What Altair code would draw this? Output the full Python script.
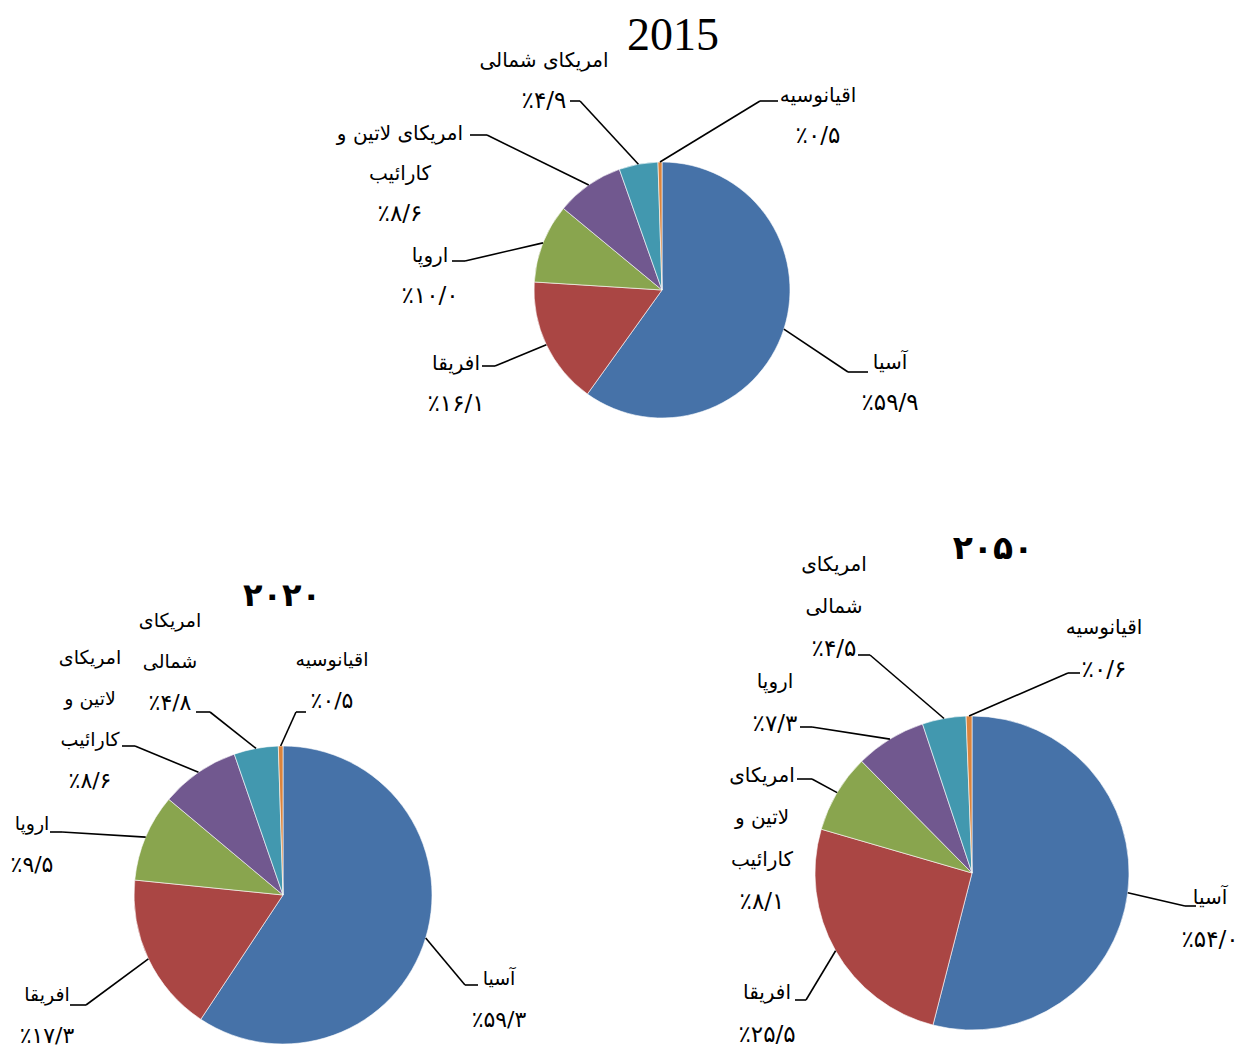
import math
import altair as alt
import pandas as pd

# ---------------- data ----------------
years = ["2015", "2020", "2050"]
regions_2015 = ["آسیا", "افریقا", "اروپا", "امریکای لاتین و کارائیب", "امریکای شمالی", "اقیانوسیه"]
values_2015 = [59.9, 16.1, 10.0, 8.6, 4.9, 0.5]
regions_2020 = ["آسیا", "افریقا", "اروپا", "امریکای لاتین و کارائیب", "امریکای شمالی", "اقیانوسیه"]
values_2020 = [59.3, 17.3, 9.5, 8.6, 4.8, 0.5]
regions_2050 = ["آسیا", "افریقا", "امریکای لاتین و کارائیب", "اروپا", "امریکای شمالی", "اقیانوسیه"]
values_2050 = [54.0, 25.5, 8.1, 7.3, 4.5, 0.6]
titles = {"2015": "2015", "2020": "۲۰۲۰", "2050": "۲۰۵۰"}

# ---------------- styles / layout ----------------
colors = ["#4672A8", "#AA4644", "#89A54E", "#71588F", "#4298AF", "#DB843D"]
OFF = 8  # page margin
W, H = 1230, 1040

layout = {
    "2015": dict(cx=662, cy=290, r=128, lh=40, fs=20, pfs=23,
                 title=dict(x=673, y=50, font="Liberation Serif", size=46, weight="normal",
                            baseline="alphabetic"),
                 wrap={"امریکای لاتین و کارائیب": ["امریکای لاتین و", "کارائیب"]},
                 labels=[(890, 363, 848, 372, 868), (456, 364, 495, 366, 482),
                         (430, 256, 465, 261, 452), (400, 134, 487, 135, 470),
                         (544, 61, 580, 101, 570), (818, 96, 760, 101, 778)]),
    "2020": dict(cx=283, cy=895, r=149, lh=41, fs=19, pfs=22,
                 title=dict(x=282, y=596, font="DejaVu Sans", size=32, weight="bold",
                            baseline="middle"),
                 wrap={"امریکای لاتین و کارائیب": ["امریکای", "لاتین و", "کارائیب"],
                       "امریکای شمالی": ["امریکای", "شمالی"]},
                 labels=[(499, 979, 465, 985, 478), (47, 995, 86, 1005, 70),
                         (32, 824, 62, 832, 50), (90, 658, 135, 746, 122),
                         (170, 621, 210, 712, 196), (332, 660, 296, 712, 306)]),
    "2050": dict(cx=972, cy=873, r=157, lh=42, fs=20, pfs=23,
                 title=dict(x=993, y=549, font="DejaVu Sans", size=33, weight="bold",
                            baseline="middle"),
                 wrap={"امریکای لاتین و کارائیب": ["امریکای", "لاتین و", "کارائیب"],
                       "امریکای شمالی": ["امریکای", "شمالی"]},
                 labels=[(1210, 898, 1185, 906, 1196), (767, 993, 806, 1000, 795),
                         (762, 776, 812, 779, 797), (775, 682, 812, 727, 800),
                         (834, 565, 870, 655, 858), (1104, 628, 1068, 673, 1080)]),
}

FA_DIGITS = str.maketrans("0123456789.", "۰۱۲۳۴۵۶۷۸۹/")


def fa_pct(v):
    return "٪" + f"{v:.1f}".translate(FA_DIGITS)


series = {"2015": (regions_2015, values_2015),
          "2020": (regions_2020, values_2020),
          "2050": (regions_2050, values_2050)}

slice_rows, seg_rows, text_rows, title_rows = [], [], [], []
for yr in years:
    regs, vals = series[yr]
    L = layout[yr]
    total = sum(vals)
    cum = 0.0
    for i, (reg, v) in enumerate(zip(regs, vals)):
        slice_rows.append(dict(year=yr, idx=i, region=reg, value=v))
        mid = (cum + v / 2) / total * 2 * math.pi
        cum += v
        sx = L["cx"] + L["r"] * math.sin(mid) - OFF
        sy = L["cy"] - L["r"] * math.cos(mid) - OFF
        tx, ty, ex, ey, hx = L["labels"][i]
        seg_rows.append(dict(x=sx, y=sy, x2=ex - OFF, y2=ey - OFF))
        seg_rows.append(dict(x=ex - OFF, y=ey - OFF, x2=hx - OFF, y2=ey - OFF))
        names = L["wrap"].get(reg, [reg])
        for k, line in enumerate(names):
            text_rows.append(dict(x=tx - OFF, y=ty - OFF + k * L["lh"], text=line, fs=L["fs"]))
        text_rows.append(dict(x=tx - OFF, y=ty - OFF + len(names) * L["lh"],
                              text=fa_pct(v), fs=L["pfs"]))
    t = L["title"]
    title_rows.append(dict(x=t["x"] - OFF, y=t["y"] - OFF, text=titles[yr], font=t["font"],
                           size=t["size"], weight=t["weight"], baseline=t["baseline"]))

slices = pd.DataFrame(slice_rows)
segs = pd.DataFrame(seg_rows)
texts = pd.DataFrame(text_rows)

xs = alt.Scale(domain=[0, W], range=[0, W])
ys = alt.Scale(domain=[0, H], range=[0, H])

layers = []
for yr in years:
    L = layout[yr]
    pie = (
        alt.Chart(slices)
        .transform_filter(alt.datum.year == yr)
        .mark_arc(radius=L["r"], stroke="white", strokeWidth=0.6)
        .encode(
            theta=alt.Theta("value:Q", stack=True),
            order=alt.Order("idx:Q", sort="ascending"),
            color=alt.Color("idx:N", scale=alt.Scale(domain=list(range(6)), range=colors), legend=None),
            x=alt.value(L["cx"] - OFF),
            y=alt.value(L["cy"] - OFF),
        )
    )
    layers.append(pie)

rules = alt.Chart(segs).mark_rule(color="black", strokeWidth=1.6).encode(
    x=alt.X("x:Q", scale=xs, axis=None),
    y=alt.Y("y:Q", scale=ys, axis=None),
    x2="x2:Q",
    y2="y2:Q",
)
layers.append(rules)

layers.append(
    alt.Chart(texts).mark_text(font="DejaVu Sans", color="black",
                               align="center", baseline="middle").encode(
        x=alt.X("x:Q", scale=xs, axis=None),
        y=alt.Y("y:Q", scale=ys, axis=None),
        text="text:N",
        size=alt.Size("fs:Q", scale=None, legend=None),
    )
)

for tr in title_rows:
    layers.append(
        alt.Chart(pd.DataFrame([tr])).mark_text(font=tr["font"], fontSize=tr["size"],
                                                fontWeight=tr["weight"], color="black",
                                                align="center", baseline=tr["baseline"]).encode(
            x=alt.X("x:Q", scale=xs, axis=None),
            y=alt.Y("y:Q", scale=ys, axis=None),
            text="text:N",
        )
    )

chart = (
    alt.layer(*layers)
    .resolve_scale(theta="independent", color="shared")
    .properties(width=W, height=H, padding=0, background="white",
                autosize=alt.AutoSizeParams(type="none"))
    .configure_view(stroke=None)
)

chart.save("out.html", embed_options={"renderer": "svg", "actions": False})
